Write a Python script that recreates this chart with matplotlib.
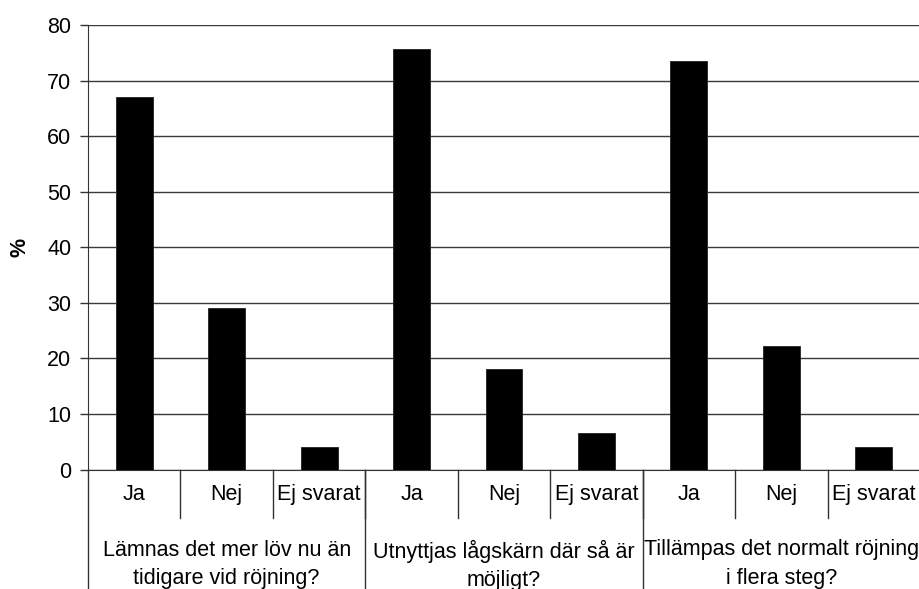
import matplotlib
matplotlib.use("Agg")
import matplotlib.pyplot as plt
import numpy as np

plt.rcParams['font.family'] = ['Liberation Sans', 'DejaVu Sans']

# data
answers = ["Ja", "Nej", "Ej svarat"]
questions = ["Lämnas det mer löv nu än\ntidigare vid röjning?",
             "Utnyttjas lågskärn där så är\nmöjligt?",
             "Tillämpas det normalt röjning\ni flera steg?"]
q1_values = [67.1, 29.0, 4.0]
q2_values = [75.6, 18.0, 6.5]
q3_values = [73.5, 22.3, 4.0]
y_ticks = [0, 10, 20, 30, 40, 50, 60, 70, 80]

values = q1_values + q2_values + q3_values
labels = answers * len(questions)
x = np.arange(len(values))

W, H = 920, 589
fig = plt.figure(figsize=(W / 100, H / 100), dpi=100)
left, right, top, bottom = 88, 920, 25, 469.5
ax = fig.add_axes([left / W, 1 - bottom / H, (right - left) / W, (bottom - top) / H])

ax.bar(x, values, width=0.4, color="black", edgecolor="#222222", linewidth=0.6, zorder=3)

ax.set_xlim(-0.5, len(values) - 0.5)
ax.set_ylim(0, 80)
ax.set_yticks(y_ticks)
ax.yaxis.grid(True, color="#3a3a3a", linewidth=1.0, zorder=0)
ax.tick_params(axis="y", direction="out", length=6, width=1, color="#333333",
               labelsize=15.5, pad=6)
ax.set_xticks([])
for s in ["top", "right"]:
    ax.spines[s].set_visible(False)
ax.spines["left"].set_color("#333333")
ax.spines["bottom"].set_color("#333333")
fig.text(20 / W, 1 - 247 / H, "%", rotation=90, ha="center", va="center",
         fontsize=15.5, fontweight="bold")

axh = bottom - top
def fy(px):
    # pixels below the x axis -> axes fraction
    return -px / axh

trans = ax.get_xaxis_transform()

# inner category ticks and labels
for i, lab in enumerate(labels):
    ax.text(x[i], fy(25), lab, transform=trans, ha="center", va="center", fontsize=15.5)
for b in np.arange(0.5, len(values) - 0.5, 1.0):
    ax.plot([b, b], [0, fy(48.5)], transform=trans, color="#333333", lw=1, clip_on=False)

# group separators and question labels
n = len(answers)
for g in range(len(questions) + 1):
    b = g * n - 0.5
    ax.plot([b, b], [0, fy(125)], transform=trans, color="#333333", lw=1, clip_on=False)
for g, q in enumerate(questions):
    cx = g * n + (n - 1) / 2
    ax.text(cx, fy(70), q, transform=trans, ha="center", va="top", fontsize=15.5,
            linespacing=1.45)

fig.savefig("out.png", dpi=100)
